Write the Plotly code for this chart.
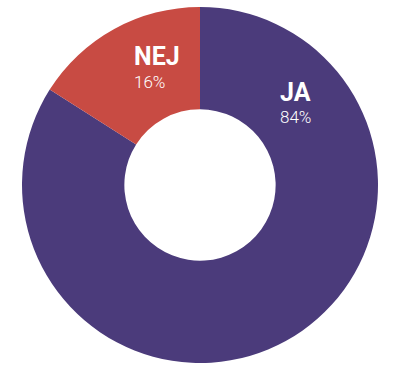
import plotly.graph_objects as go

labels = ["JA", "NEJ"]
values = [84, 16]
colors = ["#4B3B7B", "#C84B43"]
pct_text = ["84%", "16%"]

W, H = 400, 368
fig = go.Figure(go.Pie(
    labels=labels, values=values, sort=False, direction="clockwise", rotation=0,
    hole=0.425, marker=dict(colors=colors, line=dict(width=0)),
    textinfo="none", hoverinfo="label+percent", showlegend=False,
    domain=dict(x=[21 / W, 379 / W], y=[1 - 363 / H, 1 - 7 / H]),
))

# label positions (pixel coords: left x, centre y)
pos = {"NEJ": (132, 56, 82), "JA": (278, 92, 117)}
anns = []
for lab, pct in zip(labels, pct_text):
    x, y1, y2 = pos[lab]
    anns.append(dict(x=x / W, y=1 - y1 / H, xref="paper", yref="paper", xanchor="left", yanchor="middle",
                     text="<b>" + lab + "</b>", showarrow=False,
                     font=dict(family="Roboto", size=25, color="white", weight=900)))
    anns.append(dict(x=x / W, y=1 - y2 / H, xref="paper", yref="paper", xanchor="left", yanchor="middle",
                     text=pct, showarrow=False,
                     font=dict(family="Roboto", size=17, color="white", weight=300)))

fig.update_layout(width=W, height=H, margin=dict(l=0, r=0, t=0, b=0),
                  paper_bgcolor="white", plot_bgcolor="white", annotations=anns)
fig.write_html("out.html", config={"displayModeBar": False},
               post_script="document.body.style.margin='0';document.body.style.overflow='hidden';")
